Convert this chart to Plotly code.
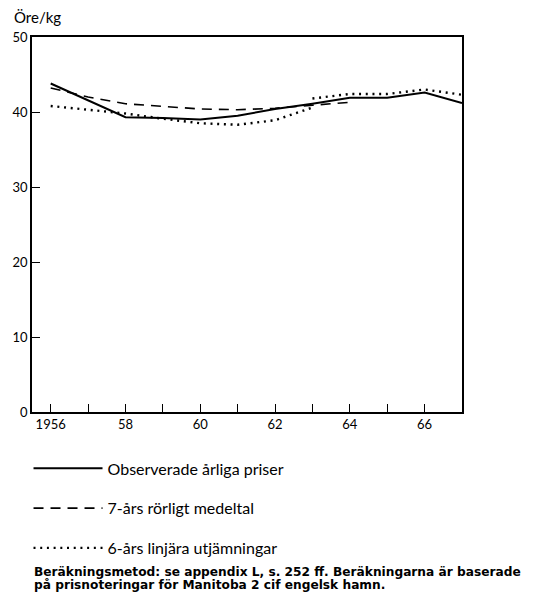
import plotly.graph_objects as go

# Årliga priser, Öre/kg
years = [1956, 1957, 1958, 1959, 1960, 1961, 1962, 1963, 1964, 1965, 1966, 1967]
observed = [43.8, 41.5, 39.3, 39.2, 39.0, 39.5, 40.4, 41.1, 41.9, 41.9, 42.6, 41.2]
moving_avg_years = [1956, 1957, 1958, 1959, 1960, 1961, 1962, 1963, 1964]
moving_avg = [43.2, 42.0, 41.1, 40.7, 40.4, 40.3, 40.5, 40.9, 41.3]
smooth_a_years = [1956, 1957, 1958, 1959, 1960, 1961, 1962, 1963]
smooth_a = [40.8, 40.3, 39.8, 39.1, 38.5, 38.3, 38.9, 40.6]
smooth_b_years = [1963, 1964, 1965, 1966, 1967]
smooth_b = [41.8, 42.4, 42.4, 43.0, 42.3]

tick_labels = ["1956", "", "58", "", "60", "", "62", "", "64", "", "66", ""]
y_ticks = [0, 10, 20, 30, 40, 50]

FONT = "Lato"
NOTE_FONT = "DejaVu Sans"

fig = go.Figure()
fig.add_trace(
    go.Scatter(
        x=years,
        y=observed,
        mode="lines",
        line=dict(color="black", width=2),
        name="Observerade årliga priser",
        legendgroup="a",
    )
)
fig.add_trace(
    go.Scatter(
        x=moving_avg_years,
        y=moving_avg,
        mode="lines",
        line=dict(color="black", width=1.6, dash="10px,7px"),
        name="7-års rörligt medeltal",
        legendgroup="b",
    )
)
fig.add_trace(
    go.Scatter(
        x=smooth_a_years + [None] + smooth_b_years,
        y=smooth_a + [None] + smooth_b,
        mode="lines",
        line=dict(color="black", width=2.4, dash="2px,4.7px"),
        name="6-års linjära utjämningar",
        legendgroup="c",
    )
)

axis_style = dict(
    ticks="inside",
    ticklen=8,
    tickwidth=1.3,
    tickcolor="black",
    showline=True,
    linecolor="black",
    linewidth=1.6,
    mirror=True,
    showgrid=False,
    zeroline=False,
    automargin=False,
    tickfont=dict(size=13),
)

# the page body adds an 8px offset, so margins are shifted to compensate
fig.update_layout(
    width=541,
    height=594,
    margin=dict(l=24, r=87, t=29, b=190, autoexpand=False),
    plot_bgcolor="white",
    paper_bgcolor="white",
    font=dict(family=FONT, size=14, color="black"),
    showlegend=True,
    legend=dict(
        x=-0.0081,
        y=-0.105,
        xanchor="left",
        yanchor="top",
        itemwidth=69,
        tracegroupgap=16,
        font=dict(family=FONT, size=16),
        bgcolor="rgba(0,0,0,0)",
    ),
    xaxis=dict(range=[1955.5, 1967], tickvals=years, ticktext=tick_labels, **axis_style),
    yaxis=dict(range=[0, 50], tickvals=y_ticks, **axis_style),
    annotations=[
        dict(
            text="Öre/kg",
            xref="paper",
            yref="paper",
            x=-0.047,
            y=1.0,
            xanchor="left",
            yanchor="bottom",
            yshift=9,
            showarrow=False,
            font=dict(size=15),
        ),
        dict(
            text="<b>Beräkningsmetod: se appendix L, s. 252 ff. Beräkningarna är baserade</b>",
            xref="paper",
            yref="paper",
            x=0,
            y=-0.4265,
            xanchor="left",
            yanchor="middle",
            showarrow=False,
            font=dict(family=NOTE_FONT, size=12.2),
        ),
        dict(
            text="<b>på prisnoteringar för Manitoba 2 cif engelsk hamn.</b>",
            xref="paper",
            yref="paper",
            x=0,
            y=-0.4625,
            xanchor="left",
            yanchor="middle",
            showarrow=False,
            font=dict(family=NOTE_FONT, size=12.2),
        ),
    ],
)

fig.write_html("out.html")
